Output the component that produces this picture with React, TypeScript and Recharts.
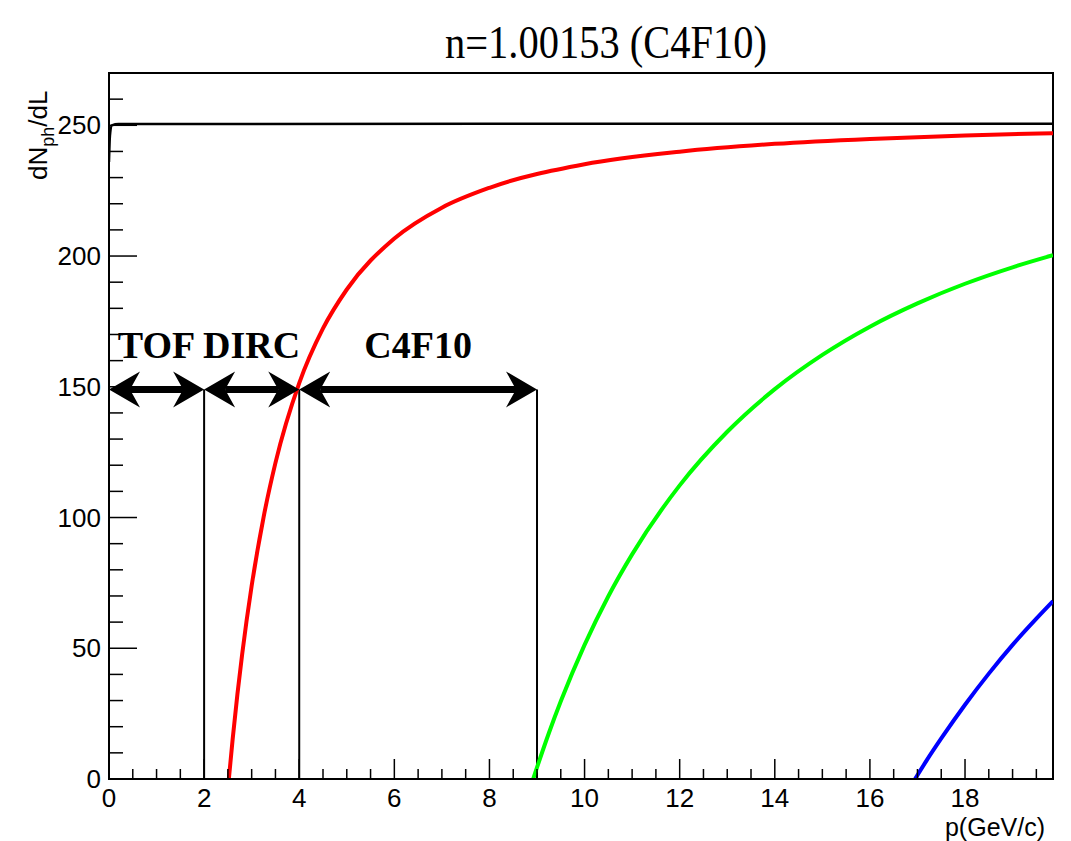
import { LineChart, Line, XAxis, YAxis, ReferenceLine, ReferenceArea, Customized } from "recharts";

const X_MAX = 19.85;
const Y_MAX = 270;

// tick labels
const xMajor = [0, 2, 4, 6, 8, 10, 12, 14, 16, 18];
const yMajor = [0, 50, 100, 150, 200, 250];
const xTicks = xMajor.flatMap((v) => [v, v + 0.5, v + 1, v + 1.5]);
const yTicks = yMajor.flatMap((v) => [v, v + 10, v + 20, v + 30, v + 40]).filter((v) => v <= Y_MAX);

// photon yield curves (p in GeV/c, n = dNph/dL)
const electron = [
  { p: 0.0, n: 236 },
  { p: 0.02, n: 246 },
  { p: 0.06, n: 250 },
  { p: 0.2, n: 250.5 },
  { p: 10, n: 250.6 },
  { p: 19.85, n: 250.6 },
];

const pion = [
  { p: 2.52, n: 0 },
  { p: 2.6, n: 15.2 },
  { p: 2.7, n: 32.4 },
  { p: 2.8, n: 47.7 },
  { p: 3.0, n: 73.9 },
  { p: 3.25, n: 100.1 },
  { p: 3.5, n: 120.9 },
  { p: 4.0, n: 151.4 },
  { p: 4.5, n: 172.3 },
  { p: 5.0, n: 187.2 },
  { p: 6.0, n: 206.7 },
  { p: 7.0, n: 218.5 },
  { p: 8.0, n: 226.1 },
  { p: 10.0, n: 235.1 },
  { p: 12.0, n: 239.9 },
  { p: 14.0, n: 242.9 },
  { p: 16.0, n: 244.8 },
  { p: 18.0, n: 246.1 },
  { p: 19.85, n: 247.0 },
];

const kaon = [
  { p: 8.92, n: 0 },
  { p: 9.0, n: 4.4 },
  { p: 9.25, n: 17.6 },
  { p: 9.5, n: 29.7 },
  { p: 10.0, n: 51.3 },
  { p: 10.5, n: 69.9 },
  { p: 11.0, n: 85.9 },
  { p: 12.0, n: 112.3 },
  { p: 13.0, n: 132.8 },
  { p: 14.0, n: 149.1 },
  { p: 15.0, n: 162.2 },
  { p: 16.0, n: 173.0 },
  { p: 17.0, n: 181.9 },
  { p: 18.0, n: 189.4 },
  { p: 19.0, n: 195.7 },
  { p: 19.85, n: 200.3 },
];

const proton = [
  { p: 16.95, n: 0 },
  { p: 17.2, n: 7.3 },
  { p: 17.5, n: 15.5 },
  { p: 18.0, n: 28.4 },
  { p: 18.5, n: 40.3 },
  { p: 19.0, n: 51.3 },
  { p: 19.5, n: 61.3 },
  { p: 19.85, n: 68.0 },
];

// detector coverage ranges
const ranges = [
  { from: 0, to: 2, name: "TOF" },
  { from: 2, to: 4, name: "DIRC" },
  { from: 4, to: 9, name: "C4F10" },
];
const rangeLevel = 149;
const edges = [2, 4, 9];

const SANS = "'Liberation Sans', Arial, Helvetica, sans-serif";
const SERIF = "'Liberation Serif', 'Times New Roman', serif";

const XTick = (props: any) => {
  const { x, y, payload } = props;
  const major = xMajor.includes(payload.value);
  return (
    <g>
      <line x1={x} x2={x} y1={y} y2={y - (major ? 20 : 10)} stroke="#000" strokeWidth={1.5} />
      {major && (
        <text x={x} y={y + 28} textAnchor="middle" fontSize={26} fontFamily={SANS} fill="#000">
          {payload.value}
        </text>
      )}
    </g>
  );
};

const YTick = (props: any) => {
  const { x, y, payload } = props;
  const major = yMajor.includes(payload.value);
  return (
    <g>
      <line x1={x} x2={x + (major ? 28 : 14)} y1={y} y2={y} stroke="#000" strokeWidth={1.5} />
      {major && (
        <text x={x - 8} y={y + 9} textAnchor="end" fontSize={26} fontFamily={SANS} fill="#000">
          {payload.value}
        </text>
      )}
    </g>
  );
};

const arrowShape = (name: string) => (props: any) => {
  const { x1, x2, y1 } = props;
  const y = y1;
  const L = 31;
  const W = 18;
  const N = 21;
  return (
    <g>
      <line x1={x1 + N} x2={x2 - N} y1={y} y2={y} stroke="#000" strokeWidth={7} />
      <polygon
        points={`${x1},${y} ${x1 + L},${y - W} ${x1 + N},${y} ${x1 + L},${y + W}`}
        fill="#000"
      />
      <polygon
        points={`${x2},${y} ${x2 - L},${y - W} ${x2 - N},${y} ${x2 - L},${y + W}`}
        fill="#000"
      />
      <text
        x={(x1 + x2) / 2}
        y={y - 31}
        textAnchor="middle"
        fontSize={38}
        fontWeight="bold"
        fontFamily={SERIF}
        fill="#000"
      >
        {name}
      </text>
    </g>
  );
};

const Texts = () => (
  <g>
    <text
      x={606}
      y={58}
      textAnchor="middle"
      fontSize={46}
      fontFamily={SERIF}
      textLength={322}
      lengthAdjust="spacingAndGlyphs"
      fill="#000"
    >
      n=1.00153 (C4F10)
    </text>
    <text transform="translate(47,180) rotate(-90)" fontSize={26} fontFamily={SANS} fill="#000">
      dN
      <tspan fontSize={18} dy={7}>
        ph
      </tspan>
      <tspan dy={-7}>/dL</tspan>
    </text>
    <text x={1045} y={836} textAnchor="end" fontSize={25} fontFamily={SANS} fill="#000">
      p(GeV/c)
    </text>
  </g>
);

export default function App() {
  return (
    <div style={{ position: "absolute", left: 0, top: 0, width: 1071, height: 841, background: "#fff" }}>
      <LineChart width={1071} height={841} margin={{ top: 73, right: 18, bottom: 0, left: 0 }}>
        <XAxis
          type="number"
          dataKey="p"
          domain={[0, X_MAX]}
          allowDataOverflow
          ticks={xTicks}
          interval={0}
          height={62}
          tickSize={0}
          tickMargin={0}
          tickLine={false}
          tick={<XTick />}
          axisLine={{ stroke: "#000", strokeWidth: 2 }}
        />
        <YAxis
          type="number"
          dataKey="n"
          domain={[0, Y_MAX]}
          allowDataOverflow
          ticks={yTicks}
          interval={0}
          width={109}
          tickSize={0}
          tickMargin={0}
          tickLine={false}
          tick={<YTick />}
          axisLine={{ stroke: "#000", strokeWidth: 2 }}
        />
        <ReferenceArea x1={0} x2={X_MAX} y1={0} y2={Y_MAX} fill="none" stroke="#000" strokeWidth={2} />
        {edges.map((e) => (
          <ReferenceLine
            key={e}
            segment={[
              { x: e, y: 0 },
              { x: e, y: rangeLevel },
            ]}
            stroke="#000"
            strokeWidth={2}
          />
        ))}
        <Line data={electron} dataKey="n" type="monotone" stroke="#000" strokeWidth={2.5} dot={false} isAnimationActive={false} />
        <Line data={pion} dataKey="n" type="monotone" stroke="#ff0000" strokeWidth={4} dot={false} isAnimationActive={false} />
        <Line data={kaon} dataKey="n" type="monotone" stroke="#00ff00" strokeWidth={4} dot={false} isAnimationActive={false} />
        <Line data={proton} dataKey="n" type="monotone" stroke="#0000ff" strokeWidth={4} dot={false} isAnimationActive={false} />
        {ranges.map((r) => (
          <ReferenceLine
            key={r.name}
            segment={[
              { x: r.from, y: rangeLevel },
              { x: r.to, y: rangeLevel },
            ]}
            shape={arrowShape(r.name)}
          />
        ))}
        <Customized component={Texts} />
      </LineChart>
    </div>
  );
}
